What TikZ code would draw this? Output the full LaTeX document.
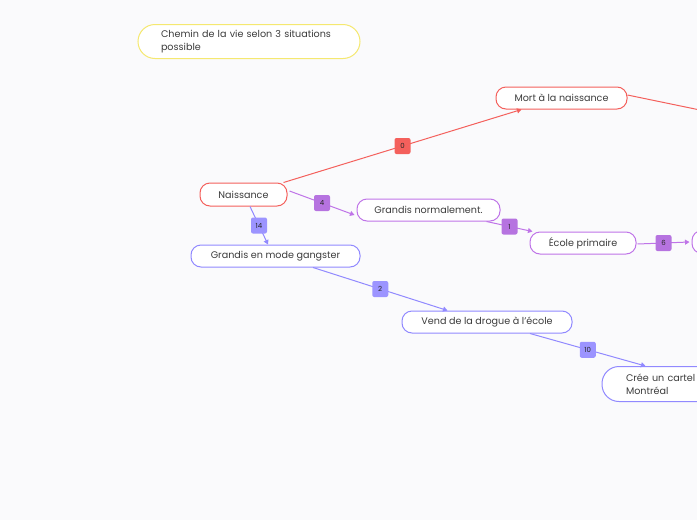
\documentclass[tikz,border=0pt]{standalone}
\usepackage{fontspec}
\setmainfont{Poppins}
\usetikzlibrary{arrows.meta}
\definecolor{bg}{HTML}{FAFAFC}
\definecolor{redc}{HTML}{F4605C}
\definecolor{purc}{HTML}{BF74E8}
\definecolor{purb}{HTML}{B673E0}
\definecolor{bluc}{HTML}{9189FF}
\definecolor{blub}{HTML}{9C94FF}
\definecolor{yelc}{HTML}{F5E870}
\definecolor{txt}{HTML}{3C3C3C}
\tikzset{
  topic/.style={draw, line width=1pt, fill=white, rounded corners=10pt, minimum height=22pt,
    inner sep=0pt, text=txt, font=\fontsize{9.6pt}{13pt}\selectfont},
  badge/.style={rounded corners=2pt, minimum width=16pt, minimum height=16pt, inner sep=0pt,
    text=black!85, font=\fontsize{7pt}{8pt}\selectfont},
  conn/.style={line width=1pt, -{Triangle[width=5pt,length=4.5pt]}},
}
\begin{document}
\begin{tikzpicture}[x=1pt,y=-1pt]
\useasboundingbox (0,0) rectangle (697,520);
\fill[bg] (0,0) rectangle (697,520);
\clip (0,0) rectangle (697,520);

% nodes
\node[topic, draw=yelc, rounded corners=17pt, minimum width=222pt, minimum height=34pt, align=left, text width=176pt]
  (title) at (249,41.5) {Chemin de la vie selon 3 situations\\possible};
\node[topic, draw=redc, minimum width=87pt, minimum height=23pt] (nais) at (243.5,194.5) {Naissance};
\node[topic, draw=redc, minimum width=131pt] (mort) at (561.5,98) {Mort à la naissance};
\node[topic, draw=purc, minimum width=143pt] (gn) at (428.5,210) {Grandis normalement.};
\node[topic, draw=purc, minimum width=106pt] (ecole) at (583,243) {École primaire};
\node[topic, draw=purc, minimum width=100pt, minimum height=23pt] (next) at (742,242) {};
\node[topic, draw=bluc, minimum width=169pt] (gang) at (275.5,256) {Grandis en mode gangster};
\node[topic, draw=bluc, minimum width=170pt] (vend) at (487,322) {Vend de la drogue à l’école};
\node[topic, draw=bluc, rounded corners=17pt, minimum width=170pt, minimum height=35pt, align=left, text width=122pt]
  (cree) at (687,384) {Crée un cartel\\Montréal};
\coordinate (mortnext) at (700,110);

% connectors
\draw[conn, redc] ([xshift=-4pt]nais.north east) -- node[badge, fill=redc]{0} ([xshift=26pt]mort.south west);
\draw[line width=1pt, redc] ([yshift=3pt]mort.east) -- (mortnext);
\draw[conn, purc] ([xshift=2pt,yshift=3.5pt]nais.east) -- node[badge, fill=purb]{4} ([xshift=-2pt,yshift=-5pt]gn.west);
\draw[conn, purc] ([xshift=-14pt]gn.south east) -- node[badge, fill=purb]{1} ([xshift=3pt]ecole.north west);
\draw[conn, purc] ([xshift=1pt,yshift=-1pt]ecole.east) -- node[badge, fill=purb]{6} ([xshift=-2pt]next.west);
\draw[conn, bluc] ([xshift=6.5pt]nais.south) -- node[badge, fill=blub]{14} ([xshift=-7.5pt]gang.north);
\draw[conn, bluc] ([xshift=37.5pt]gang.south) -- node[badge, fill=blub]{2} ([xshift=46pt]vend.north west);
\draw[conn, bluc] ([xshift=43pt]vend.south) -- node[badge, fill=blub]{10} ([xshift=44pt]cree.north west);
\end{tikzpicture}
\end{document}
